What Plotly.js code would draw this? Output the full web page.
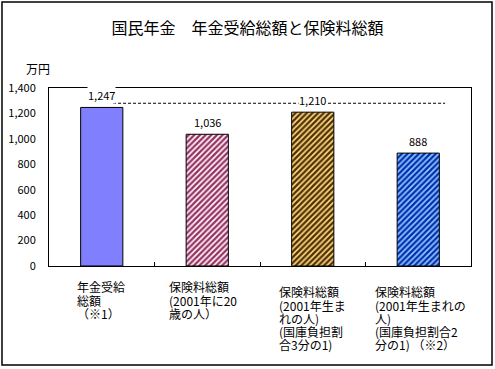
<!DOCTYPE html>
<html>
<head>
<meta charset="utf-8">
<script src="https://cdn.plot.ly/plotly-3.0.1.min.js"></script>
<style>
html,body{margin:0;padding:0;background:#fff;}
#chart{width:495px;height:369px;}
</style>
</head>
<body>
<div id="chart"></div>
<script>
// ---- data ----
var categories = ["年金受給総額", "保険料総額(20歳)", "保険料総額(1/3)", "保険料総額(1/2)"];
var values = [1247, 1036, 1210, 888];
var valueLabels = ["1,247", "1,036", "1,210", "888"];
var categoryLines = [
  ["年金受給", "総額", "（※1）"],
  ["保険料総額", "(2001年に20", "歳の人）"],
  ["保険料総額", "(2001年生ま", "れの人)", "(国庫負担割", "合3分の1)"],
  ["保険料総額", "(2001年生まれの", "人)", "(国庫負担割合2", "分の1) （※2）"]
];
var yTickVals = [0, 200, 400, 600, 800, 1000, 1200, 1400];
var referenceLevel = 1280;
var titleText = "国民年金　年金受給総額と保険料総額";
var unitText = "万円";

// ---- style ----
var FONT = "'Noto Sans CJK JP', 'Noto Sans', sans-serif";
var fillColors = ["#8080FF", "#FFFFFF", "#FFE08A", "#99CCFF"];
var patterns = [
  {shape: ""},
  {shape: "/", fgcolor: "#993366", bgcolor: "#FFFFFF", size: 4, solidity: 0.6, fillmode: "replace"},
  {shape: "/", fgcolor: "#553000", bgcolor: "#FFE08A", size: 4, solidity: 0.6, fillmode: "replace"},
  {shape: "/", fgcolor: "#0030B0", bgcolor: "#99CCFF", size: 4, solidity: 0.6, fillmode: "replace"}
];
var labelXShift = [-26, -39, -34.5, -44];
var labelFirstLine = [20.7, 20.7, 25.7, 25.7];
var lineStep = 13.3;

var traces = categories.map(function(c, i){
  var p = patterns[i];
  var marker = {color: fillColors[i], line: {color: "#000", width: 1}};
  if (p.shape) marker.pattern = p;
  return {
    type: "bar",
    x: [i],
    y: [values[i]],
    width: 0.4,
    marker: marker,
    hoverinfo: "none",
    showlegend: false
  };
});

var annotations = [];
// value labels
values.forEach(function(v, i){
  annotations.push({
    xref: "x", yref: "y", x: i, y: v,
    yanchor: "middle", xanchor: "center", yshift: 12,
    text: valueLabels[i], showarrow: false,
    bgcolor: "#FFFFFF", borderpad: 0,
    font: {family: FONT, size: 11, color: "#000"}
  });
});
// category labels, one annotation per line, left aligned
categoryLines.forEach(function(lines, i){
  lines.forEach(function(t, j){
    annotations.push({
      xref: "x", yref: "paper", x: i, y: 0,
      xanchor: "left", yanchor: "middle",
      xshift: labelXShift[i], yshift: -(labelFirstLine[i] + j * lineStep),
      text: t, showarrow: false, borderpad: 0,
      font: {family: FONT, size: 12, color: "#000"}
    });
  });
});
// unit
annotations.push({
  xref: "paper", yref: "paper", x: -0.026, y: 1.11,
  xanchor: "center", yanchor: "middle",
  text: unitText, showarrow: false,
  font: {family: FONT, size: 12, color: "#000"}
});

var layout = {
  width: 495, height: 369,
  margin: {l: 49, r: 24, t: 88, b: 103},
  paper_bgcolor: "#FFFFFF", plot_bgcolor: "#FFFFFF",
  title: {text: titleText, x: 0.5, xanchor: "center", y: 0.922, yanchor: "middle",
          font: {family: FONT, size: 16, color: "#000"}},
  font: {family: FONT, color: "#000"},
  xaxis: {
    type: "linear", range: [-0.5, 3.5],
    showgrid: false, zeroline: false,
    showline: true, linecolor: "#000", linewidth: 1, mirror: true,
    tickmode: "array", tickvals: [0.5, 1.5, 2.5],
    ticks: "inside", ticklen: 4, tickcolor: "#000",
    showticklabels: false, fixedrange: true
  },
  yaxis: {
    range: [0, 1400],
    tickmode: "array", tickvals: yTickVals,
    tickformat: ",d",
    showgrid: false, zeroline: false,
    showline: true, linecolor: "#000", linewidth: 1, mirror: true,
    ticks: "", ticklabelstandoff: 10,
    tickfont: {family: FONT, size: 11, color: "#000"},
    fixedrange: true
  },
  shapes: [
    {type: "line", xref: "x", yref: "y", x0: 0.107, x1: 3.254,
     y0: referenceLevel, y1: referenceLevel, layer: "below",
     line: {color: "#000", width: 1, dash: "3px,2px"}},
    {type: "rect", xref: "paper", yref: "paper",
     x0: -0.1114, x1: 1.0498, y0: -0.556, y1: 1.483,
     line: {color: "#000", width: 1.5}, fillcolor: "rgba(0,0,0,0)"}
  ],
  annotations: annotations
};

Plotly.newPlot("chart", traces, layout, {displayModeBar: false, staticPlot: true});
</script>
</body>
</html>
